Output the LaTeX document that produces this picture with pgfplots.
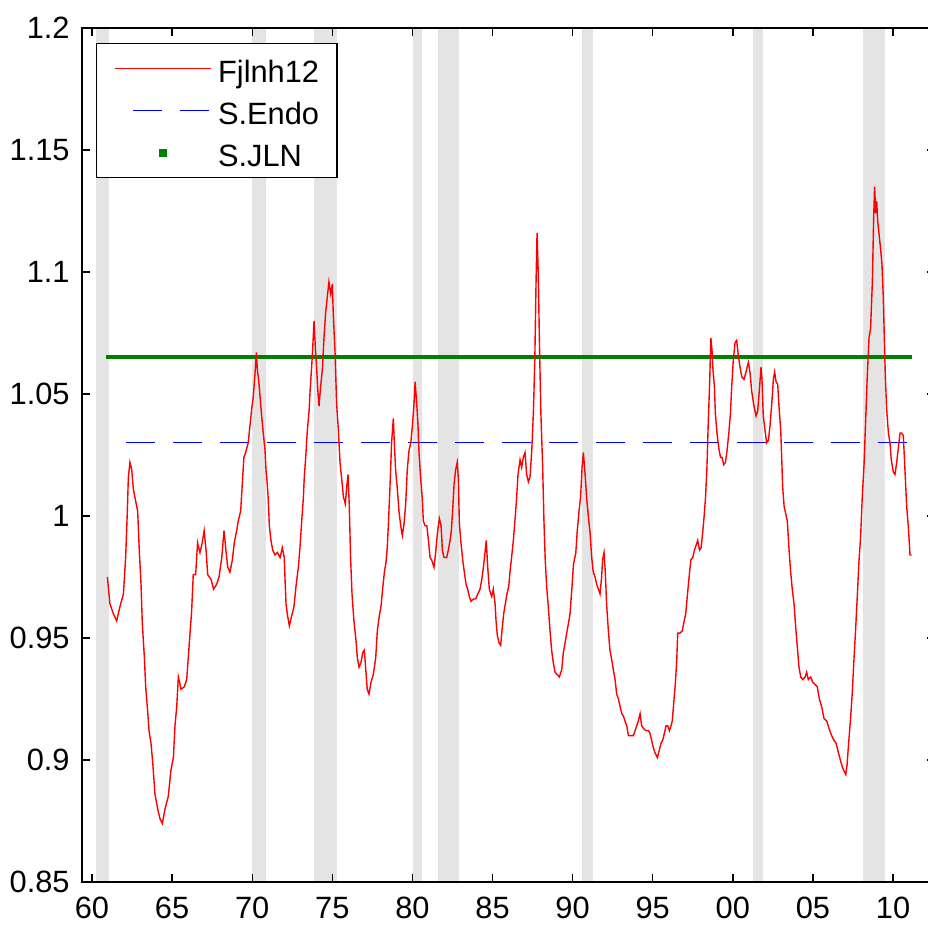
\documentclass[border=0pt]{standalone}
\usepackage{fontspec}
\setmainfont{Liberation Sans}
\usepackage{pgfplots}
\usepackage{pgfplotstable}
\pgfplotsset{compat=1.18}
\definecolor{mred}{RGB}{255,0,0}
\definecolor{mblue}{RGB}{0,0,255}
\definecolor{mgreen}{RGB}{0,128,0}
\definecolor{shade}{RGB}{228,228,228}

\pgfplotstableread{
x y
1960.96 0.975
1961.12 0.964
1961.33 0.960
1961.54 0.957
1961.75 0.963
1961.96 0.968
1962.10 0.983
1962.20 1.001
1962.27 1.016
1962.37 1.022
1962.48 1.019
1962.58 1.011
1962.73 1.006
1962.85 1.002
1962.95 0.986
1963.06 0.972
1963.14 0.956
1963.27 0.942
1963.35 0.930
1963.45 0.922
1963.56 0.912
1963.68 0.907
1963.79 0.899
1963.93 0.886
1964.10 0.880
1964.24 0.876
1964.39 0.874
1964.56 0.880
1964.76 0.885
1964.93 0.896
1965.08 0.901
1965.18 0.914
1965.29 0.922
1965.39 0.934
1965.56 0.929
1965.76 0.930
1965.91 0.933
1966.01 0.942
1966.12 0.952
1966.22 0.961
1966.32 0.976
1966.47 0.976
1966.59 0.989
1966.74 0.985
1966.88 0.989
1967.00 0.994
1967.12 0.986
1967.22 0.976
1967.43 0.974
1967.59 0.970
1967.78 0.972
1967.93 0.975
1968.10 0.983
1968.24 0.994
1968.36 0.986
1968.47 0.979
1968.61 0.977
1968.76 0.982
1968.88 0.989
1969.03 0.994
1969.13 0.998
1969.28 1.002
1969.38 1.013
1969.48 1.024
1969.59 1.026
1969.75 1.030
1969.86 1.037
1969.97 1.044
1970.07 1.049
1970.17 1.058
1970.26 1.067
1970.32 1.060
1970.40 1.056
1970.49 1.049
1970.59 1.041
1970.69 1.034
1970.80 1.027
1970.86 1.019
1970.94 1.013
1971.00 1.007
1971.07 0.996
1971.17 0.990
1971.28 0.986
1971.42 0.984
1971.57 0.985
1971.74 0.983
1971.88 0.987
1972.00 0.983
1972.05 0.974
1972.11 0.964
1972.21 0.959
1972.32 0.955
1972.46 0.959
1972.61 0.963
1972.73 0.971
1972.88 0.979
1972.98 0.987
1973.09 0.998
1973.19 1.007
1973.25 1.016
1973.34 1.024
1973.44 1.035
1973.55 1.043
1973.61 1.051
1973.71 1.061
1973.77 1.068
1973.86 1.080
1973.94 1.069
1974.02 1.061
1974.08 1.053
1974.17 1.045
1974.27 1.053
1974.38 1.060
1974.48 1.073
1974.58 1.083
1974.69 1.090
1974.79 1.096
1974.90 1.091
1975.00 1.095
1975.06 1.083
1975.17 1.067
1975.27 1.046
1975.38 1.035
1975.48 1.022
1975.59 1.015
1975.69 1.008
1975.81 1.005
1975.90 1.012
1975.98 1.017
1976.06 1.004
1976.14 0.983
1976.23 0.968
1976.35 0.957
1976.48 0.949
1976.56 0.942
1976.67 0.938
1976.79 0.940
1976.90 0.944
1977.00 0.945
1977.10 0.936
1977.18 0.929
1977.29 0.927
1977.42 0.932
1977.56 0.935
1977.71 0.942
1977.81 0.953
1977.93 0.959
1978.04 0.963
1978.14 0.970
1978.25 0.977
1978.35 0.981
1978.43 0.987
1978.51 0.998
1978.60 1.012
1978.70 1.030
1978.81 1.040
1978.87 1.030
1978.95 1.019
1979.06 1.011
1979.16 1.002
1979.27 0.996
1979.37 0.992
1979.48 0.997
1979.58 1.005
1979.68 1.019
1979.79 1.027
1979.90 1.030
1980.00 1.037
1980.10 1.046
1980.17 1.055
1980.27 1.046
1980.35 1.037
1980.41 1.026
1980.52 1.015
1980.62 1.007
1980.68 0.998
1980.79 0.996
1980.90 0.996
1981.00 0.990
1981.10 0.983
1981.20 0.982
1981.35 0.979
1981.45 0.985
1981.56 0.993
1981.68 0.999
1981.79 0.996
1981.87 0.986
1981.97 0.983
1982.14 0.983
1982.24 0.986
1982.35 0.990
1982.43 0.994
1982.51 1.002
1982.60 1.013
1982.70 1.019
1982.80 1.022
1982.87 1.015
1982.93 0.997
1983.03 0.989
1983.14 0.982
1983.24 0.977
1983.35 0.972
1983.45 0.970
1983.55 0.967
1983.66 0.965
1983.80 0.966
1983.95 0.966
1984.08 0.968
1984.22 0.970
1984.33 0.974
1984.43 0.979
1984.53 0.985
1984.61 0.990
1984.70 0.979
1984.80 0.970
1984.95 0.967
1985.05 0.970
1985.16 0.964
1985.22 0.957
1985.30 0.951
1985.41 0.948
1985.51 0.947
1985.59 0.953
1985.70 0.960
1985.80 0.964
1985.90 0.968
1986.01 0.971
1986.09 0.977
1986.19 0.983
1986.30 0.990
1986.40 0.998
1986.51 1.008
1986.59 1.017
1986.72 1.023
1986.82 1.020
1986.92 1.024
1987.03 1.026
1987.13 1.017
1987.24 1.014
1987.34 1.016
1987.45 1.027
1987.55 1.042
1987.64 1.064
1987.72 1.097
1987.78 1.116
1987.86 1.098
1987.94 1.067
1988.02 1.042
1988.13 1.020
1988.21 0.998
1988.29 0.982
1988.38 0.971
1988.48 0.963
1988.59 0.953
1988.69 0.945
1988.79 0.940
1988.90 0.936
1989.04 0.935
1989.17 0.934
1989.32 0.937
1989.42 0.944
1989.53 0.948
1989.63 0.952
1989.74 0.956
1989.84 0.960
1989.95 0.970
1990.05 0.980
1990.20 0.985
1990.29 0.994
1990.40 1.002
1990.50 1.008
1990.59 1.020
1990.67 1.026
1990.78 1.017
1990.88 1.007
1990.98 1.000
1991.09 0.993
1991.19 0.983
1991.29 0.977
1991.40 0.975
1991.50 0.972
1991.61 0.970
1991.71 0.968
1991.81 0.975
1991.87 0.982
1991.96 0.985
1992.04 0.977
1992.12 0.964
1992.23 0.953
1992.33 0.945
1992.44 0.941
1992.54 0.937
1992.65 0.933
1992.75 0.927
1992.86 0.925
1992.96 0.922
1993.07 0.919
1993.17 0.918
1993.27 0.916
1993.38 0.914
1993.48 0.910
1993.63 0.910
1993.79 0.910
1993.90 0.912
1994.00 0.914
1994.10 0.916
1994.21 0.919
1994.31 0.914
1994.42 0.913
1994.58 0.912
1994.73 0.912
1994.83 0.911
1994.93 0.908
1995.04 0.905
1995.14 0.903
1995.29 0.901
1995.41 0.904
1995.52 0.907
1995.62 0.908
1995.73 0.911
1995.83 0.914
1995.94 0.914
1996.04 0.912
1996.14 0.914
1996.22 0.916
1996.33 0.925
1996.41 0.931
1996.50 0.941
1996.56 0.952
1996.71 0.952
1996.85 0.953
1996.96 0.957
1997.06 0.960
1997.17 0.968
1997.27 0.975
1997.38 0.982
1997.50 0.983
1997.60 0.986
1997.71 0.988
1997.81 0.990
1997.92 0.986
1998.02 0.987
1998.13 0.994
1998.21 1.000
1998.29 1.007
1998.38 1.019
1998.46 1.037
1998.55 1.054
1998.63 1.073
1998.70 1.068
1998.76 1.060
1998.85 1.053
1998.91 1.042
1999.01 1.034
1999.12 1.028
1999.23 1.024
1999.33 1.024
1999.43 1.021
1999.54 1.022
1999.64 1.027
1999.75 1.034
1999.85 1.042
1999.93 1.053
2000.03 1.064
2000.14 1.071
2000.24 1.072
2000.34 1.066
2000.45 1.061
2000.56 1.057
2000.70 1.056
2000.82 1.059
2000.97 1.063
2001.07 1.059
2001.18 1.051
2001.32 1.045
2001.45 1.041
2001.55 1.043
2001.65 1.051
2001.76 1.061
2001.82 1.056
2001.90 1.041
2002.01 1.035
2002.11 1.030
2002.22 1.031
2002.32 1.037
2002.43 1.046
2002.53 1.056
2002.61 1.059
2002.70 1.055
2002.80 1.054
2002.88 1.045
2002.99 1.035
2003.05 1.024
2003.11 1.012
2003.20 1.004
2003.30 1.001
2003.40 0.998
2003.51 0.986
2003.61 0.977
2003.71 0.970
2003.82 0.964
2003.93 0.954
2004.03 0.946
2004.13 0.938
2004.24 0.934
2004.36 0.933
2004.51 0.934
2004.61 0.936
2004.71 0.933
2004.86 0.934
2004.98 0.932
2005.13 0.931
2005.27 0.930
2005.40 0.925
2005.54 0.922
2005.69 0.917
2005.86 0.916
2006.00 0.913
2006.17 0.910
2006.32 0.908
2006.44 0.907
2006.59 0.903
2006.75 0.899
2006.90 0.896
2007.05 0.894
2007.13 0.898
2007.24 0.908
2007.35 0.917
2007.45 0.927
2007.55 0.940
2007.66 0.953
2007.76 0.966
2007.87 0.981
2007.98 0.992
2008.08 1.008
2008.19 1.021
2008.29 1.039
2008.39 1.057
2008.50 1.073
2008.60 1.077
2008.71 1.096
2008.79 1.122
2008.85 1.135
2008.92 1.124
2008.98 1.129
2009.04 1.121
2009.12 1.116
2009.23 1.109
2009.31 1.103
2009.39 1.090
2009.46 1.072
2009.52 1.057
2009.60 1.044
2009.71 1.034
2009.81 1.030
2009.89 1.023
2010.02 1.018
2010.12 1.017
2010.23 1.022
2010.33 1.028
2010.44 1.034
2010.54 1.034
2010.64 1.033
2010.75 1.018
2010.85 1.004
2010.96 0.995
2011.06 0.984
2011.16 0.984
}\redData

\begin{document}
\begin{tikzpicture}
\begin{axis}[
  name=ax,
  scale only axis,
  width=426.5pt, height=427pt,
  xmin=1959.376, xmax=2012.62,
  ymin=0.85, ymax=1.2,
  axis on top,
  xtick={1960,1965,1970,1975,1980,1985,1990,1995,2000,2005,2010},
  xticklabels={60,65,70,75,80,85,90,95,00,05,10},
  ytick={0.85,0.9,0.95,1,1.05,1.1,1.15,1.2},
  yticklabels={0.85,0.9,0.95,1,1.05,1.1,1.15,1.2},
  /pgf/number format/assume math mode=true,
  tick align=inside,
  xtick pos=both, ytick pos=both,
  major tick length=4pt,
  tick style={black, line width=0.7pt},
  axis line style={black, line width=0.7pt},
  ticklabel style={font=\fontsize{15.4}{18}\selectfont, text=black},
  xticklabel style={inner sep=0pt, anchor=north, yshift=-7.5pt},
  yticklabel style={inner sep=0pt, anchor=east, xshift=-6pt},
  reverse legend,
  legend cell align=left,
  legend style={at={(rel axis cs:0,1)}, anchor=north west, xshift=7pt, yshift=-7.5pt,
    draw=black, line width=0.7pt, fill=white,
    inner xsep=9pt, inner ysep=5.5pt,
    font=\fontsize{15.4}{18}\selectfont,
    row sep=7pt, column sep=3pt,
    nodes={inner sep=0pt, text height=14pt, text depth=0pt}},
]
% recession shading
\addplot[draw=none, fill=shade, forget plot] coordinates {(1960.28,0.8) (1961.09,0.8) (1961.09,1.3) (1960.28,1.3)} -- cycle;
\addplot[draw=none, fill=shade, forget plot] coordinates {(1969.97,0.8) (1970.84,0.8) (1970.84,1.3) (1969.97,1.3)} -- cycle;
\addplot[draw=none, fill=shade, forget plot] coordinates {(1973.88,0.8) (1975.27,0.8) (1975.27,1.3) (1973.88,1.3)} -- cycle;
\addplot[draw=none, fill=shade, forget plot] coordinates {(1980.06,0.8) (1980.58,0.8) (1980.58,1.3) (1980.06,1.3)} -- cycle;
\addplot[draw=none, fill=shade, forget plot] coordinates {(1981.62,0.8) (1982.91,0.8) (1982.91,1.3) (1981.62,1.3)} -- cycle;
\addplot[draw=none, fill=shade, forget plot] coordinates {(1990.61,0.8) (1991.25,0.8) (1991.25,1.3) (1990.61,1.3)} -- cycle;
\addplot[draw=none, fill=shade, forget plot] coordinates {(2001.28,0.8) (2001.90,0.8) (2001.90,1.3) (2001.28,1.3)} -- cycle;
\addplot[draw=none, fill=shade, forget plot] coordinates {(2008.10,0.8) (2009.52,0.8) (2009.52,1.3) (2008.10,1.3)} -- cycle;
% S.JLN
\addplot[mgreen, line width=2pt,
  legend image code/.code={\fill[mgreen] (23pt,-1pt) rectangle (25pt,1pt);}]
  coordinates {(1960.85,1.065) (2011.2,1.065)};
\addlegendentry{S.JLN}
% S.Endo
\addplot[mblue, line width=0.7pt, dash pattern=on 14.5pt off 9pt,
  legend image code/.code={\draw[mblue, line width=0.7pt, dash pattern=on 14.5pt off 9pt, dash phase=14.5pt] (0pt,0pt) -- (48pt,0pt);}]
  coordinates {(1962.12,1.03) (2011.0,1.03)};
\addlegendentry{S.Endo}
% Fjlnh12
\addplot[mred, line width=0.7pt,
  legend image code/.code={\draw[mred, line width=0.7pt] (0pt,0pt) -- (48pt,0pt);}]
  table[x=x, y=y] {\redData};
\addlegendentry{Fjlnh12}
\end{axis}
\pgfresetboundingbox
\path[use as bounding box] ([xshift=-41pt,yshift=14pt]ax.north west) rectangle ([xshift=-3.5pt,yshift=-22pt]ax.south east);
\end{tikzpicture}
\end{document}
